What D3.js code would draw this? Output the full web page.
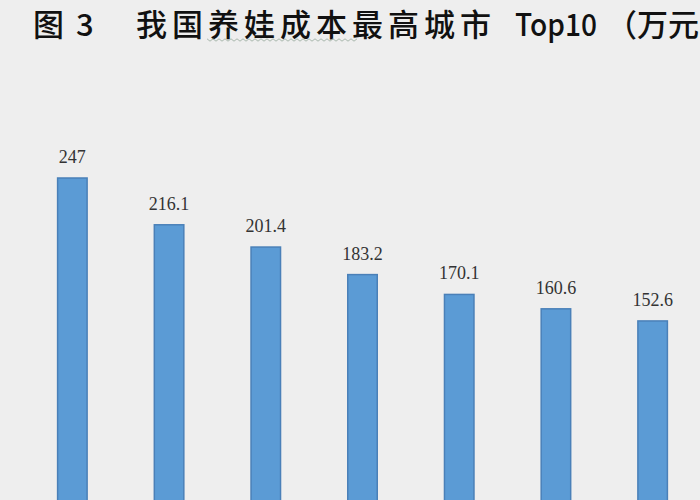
<!DOCTYPE html>
<html>
<head>
<meta charset="utf-8">
<script src="https://cdn.jsdelivr.net/npm/d3@7"></script>
<style>
  body { margin: 0; background: #eeeeee; }
  svg { display: block; }
</style>
</head>
<body>
<script>
// ranks of the cities that are visible in the (cropped) picture
var ranks = ["1", "2", "3", "4", "5", "6", "7"];
var costs = [247, 216.1, 201.4, 183.2, 170.1, 160.6, 152.6];
var labels = ["247", "216.1", "201.4", "183.2", "170.1", "160.6", "152.6"];

var width = 700, height = 500;

var data = ranks.map(function(r, i) {
    return {rank: r, cost: costs[i], label: labels[i]};
});

var svg = d3.select("body").append("svg")
    .attr("width", width)
    .attr("height", height);

svg.append("rect")
    .attr("width", width)
    .attr("height", height)
    .attr("fill", "#eeeeee");

// title in pieces so the spacing follows the picture
var title = svg.append("g")
    .attr("font-family", "'Noto Sans CJK SC', sans-serif")
    .attr("font-weight", 500)
    .attr("fill", "#111")
    .attr("font-size", 31);

title.append("text").attr("x", 33).attr("y", 36).text("图");
title.append("text").attr("x", 76).attr("y", 36).text("3");
title.append("text").attr("x", 136).attr("y", 36)
    .attr("letter-spacing", 5)
    .text("我国养娃成本最高城市");
title.append("text").attr("x", 515).attr("y", 36)
    .attr("textLength", 82).attr("lengthAdjust", "spacingAndGlyphs")
    .text("Top10");
title.append("text").attr("x", 606).attr("y", 36).text("（万元");

// faint wavy underline under part of the title
var wave = d3.range(0, 151, 3).map(function(d, i) { return [207 + d, 40 + (i % 2 ? 1.2 : -1.2)]; });
svg.append("path")
    .attr("d", d3.line()(wave))
    .attr("fill", "none")
    .attr("stroke", "#a9b8ad")
    .attr("stroke-width", 1);

// the axis baseline sits below the bottom of the picture
var x = d3.scaleBand()
    .domain(ranks)
    .range([24, 701])
    .paddingInner(0.695)
    .paddingOuter(0.3475);

var y = d3.scaleLinear()
    .domain([0, 247])
    .range([552, 178]);

svg.selectAll(".bar")
    .data(data)
    .enter().append("rect")
    .attr("class", "bar")
    .attr("x", function(d) { return x(d.rank); })
    .attr("y", function(d) { return y(d.cost); })
    .attr("width", x.bandwidth())
    .attr("height", function(d) { return y(0) - y(d.cost); })
    .attr("fill", "#5b9bd5")
    .attr("stroke", "#4a80b8")
    .attr("stroke-width", 1.5);

svg.selectAll(".val")
    .data(data)
    .enter().append("text")
    .attr("class", "val")
    .attr("x", function(d) { return x(d.rank) + x.bandwidth() / 2; })
    .attr("y", function(d) { return y(d.cost) - 15; })
    .attr("text-anchor", "middle")
    .attr("font-family", "'Liberation Serif', serif")
    .attr("font-size", 18)
    .attr("fill", "#333")
    .text(function(d) { return d.label; });
</script>
</body>
</html>
